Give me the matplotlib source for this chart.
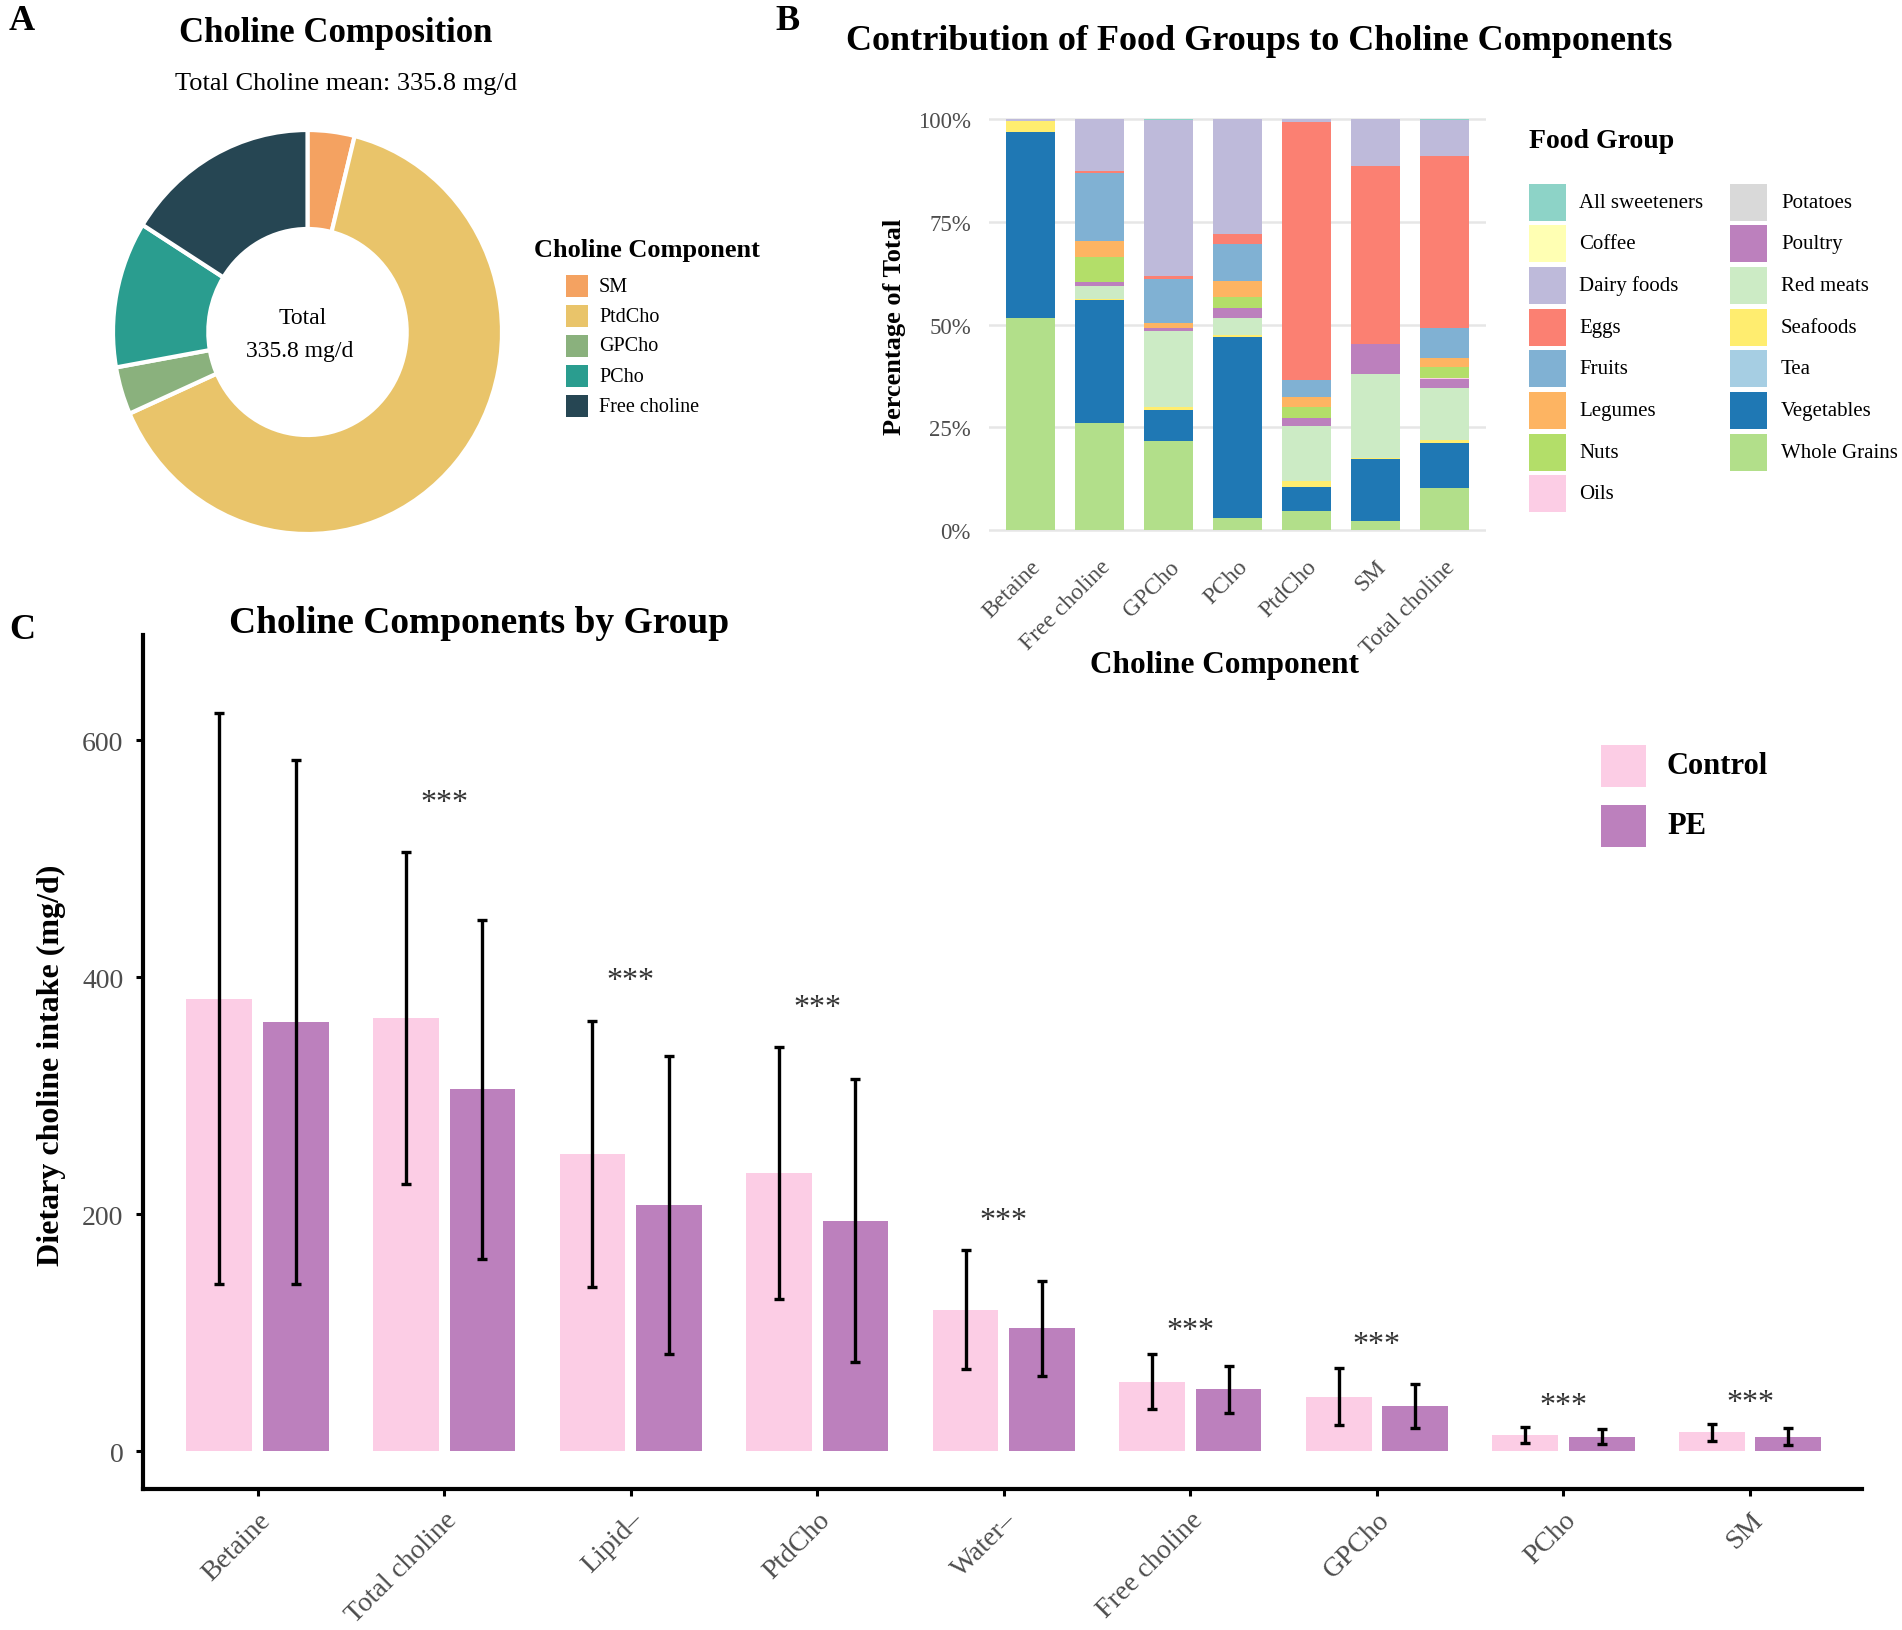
import matplotlib
matplotlib.use("Agg")
import matplotlib.pyplot as plt
from matplotlib.patches import Rectangle
import numpy as np

W, H = 1902, 1631
plt.rcParams['font.family'] = ['Liberation Serif', 'DejaVu Serif']

# ---------------- Panel A data ----------------
pie_labels = ["SM", "PtdCho", "GPCho", "PCho", "Free choline"]
pie_values = [13.1, 216.6, 12.8, 39.3, 54.1]
pie_colors = ["#f4a261", "#e9c46a", "#8ab17d", "#2a9d8f", "#264653"]
total_mean = 335.8

# ---------------- Panel B data ----------------
components_b = ["Betaine", "Free choline", "GPCho", "PCho", "PtdCho", "SM", "Total choline"]
food_groups = ["All sweeteners", "Coffee", "Dairy foods", "Eggs", "Fruits", "Legumes",
               "Nuts", "Oils", "Potatoes", "Poultry", "Red meats", "Seafoods", "Tea",
               "Vegetables", "Whole Grains"]
food_colors = ["#8dd3c7", "#ffffb3", "#bebada", "#fb8072", "#80b1d3", "#fdb462",
               "#b3de69", "#fccde5", "#d9d9d9", "#bc80bd", "#ccebc5", "#ffed6f",
               "#a6cee3", "#1f78b4", "#b2df8a"]
all_sweeteners = [0, 0, 0.2, 0, 0, 0, 0.2]
coffee = [0, 0, 0, 0, 0, 0, 0]
dairy_foods = [0.5, 12.6, 38.0, 27.9, 0.6, 11.4, 8.8]
eggs = [0, 0.6, 0.8, 2.4, 63.0, 43.4, 41.9]
fruits = [0, 16.6, 10.7, 9.2, 4.1, 0, 7.2]
legumes = [0, 3.7, 1.2, 3.7, 2.3, 0, 2.2]
nuts = [0, 6.1, 0, 2.9, 2.8, 0, 2.7]
oils = [0, 0, 0, 0, 0, 0, 0.3]
potatoes = [0, 0, 0, 0, 0, 0, 0]
poultry = [0, 1.0, 0.7, 2.2, 1.9, 7.3, 2.1]
red_meats = [0, 3.2, 18.4, 4.3, 13.3, 20.3, 12.7]
seafoods = [2.6, 0.3, 0.9, 0.4, 1.5, 0.4, 0.7]
tea = [0, 0, 0, 0, 0, 0, 0]
vegetables = [45.2, 29.9, 7.4, 44.2, 5.9, 14.9, 11.1]
whole_grains = [51.7, 26.0, 21.7, 2.8, 4.6, 2.3, 10.1]
food_values = [all_sweeteners, coffee, dairy_foods, eggs, fruits, legumes, nuts, oils,
               potatoes, poultry, red_meats, seafoods, tea, vegetables, whole_grains]
pct_ticks = [0, 25, 50, 75, 100]
pct_labels = ["0%", "25%", "50%", "75%", "100%"]

# ---------------- Panel C data ----------------
components_c = ["Betaine", "Total choline", "Lipid\u2013", "PtdCho", "Water\u2013",
                "Free choline", "GPCho", "PCho", "SM"]
control_mean = [381.6, 365.7, 250.5, 234.6, 119.4, 58.5, 45.9, 13.7, 15.7]
control_sd = [241, 140, 112, 106, 50, 23, 24, 7, 7.5]
pe_mean = [362.3, 305.2, 207.5, 194.4, 103.7, 52.2, 38.1, 12.2, 12.2]
pe_sd = [221, 143, 126, 119.5, 40, 20, 18.5, 6.5, 7]
signif = ["", "***", "***", "***", "***", "***", "***", "***", "***"]
group_labels = ["Control", "PE"]
group_colors = ["#fccde5", "#bc80bd"]
c_ticks = [0, 200, 400, 600]

GREY = "#4d4d4d"

fig = plt.figure(figsize=(W / 100, H / 100), dpi=100)


def add_ax(x0, y0, x1, y1):
    return fig.add_axes([x0 / W, 1 - y1 / H, (x1 - x0) / W, (y1 - y0) / H])


def ftext(x, y, s, **kw):
    fig.text(x / W, 1 - y / H, s, **kw)


def fkey(xc, yc, w, h, color):
    fig.add_artist(Rectangle(((xc - w / 2) / W, 1 - (yc + h / 2) / H), w / W, h / H,
                             transform=fig.transFigure, facecolor=color, edgecolor='none'))


# ================= Panel A =================
axA = add_ax(113, 131, 502, 535)
axA.pie(pie_values, colors=pie_colors, startangle=90, counterclock=False, radius=1,
        wedgeprops=dict(width=0.49, edgecolor='white', linewidth=3))
axA.set_aspect('auto')
axA.set_xlim(-1, 1)
axA.set_ylim(-1, 1)
axA.axis('off')
ftext(303, 318, "Total", ha='center', va='center', fontsize=17)
ftext(300, 351, f"{total_mean:.1f} mg/d", ha='center', va='center', fontsize=17)

ftext(22, 22, "A", ha='center', va='center', fontsize=26, fontweight='bold')
ftext(336, 34, "Choline Composition", ha='center', va='center', fontsize=25, fontweight='bold')
ftext(346, 84, f"Total Choline mean: {total_mean:.1f} mg/d", ha='center', va='center', fontsize=19)

ftext(534, 250, "Choline Component", ha='left', va='center', fontsize=19, fontweight='bold')
for i, (lab, col) in enumerate(zip(pie_labels, pie_colors)):
    yc = 287 + i * 30
    fkey(577, yc, 22, 22, col)
    ftext(599, yc, lab, ha='left', va='center', fontsize=14.5)

# ================= Panel B =================
axB = add_ax(989, 99.5, 1486, 551.5)
xb = np.arange(1, len(components_b) + 1)
bottom = np.zeros(len(components_b))
for vals, col in zip(food_values[::-1], food_colors[::-1]):
    axB.bar(xb, vals, 0.7, bottom=bottom, color=col, zorder=2, linewidth=0)
    bottom = bottom + np.array(vals)
axB.set_xlim(0.4, 7.6)
axB.set_ylim(-5, 105)
axB.set_yticks(pct_ticks)
axB.set_yticklabels(pct_labels)
axB.set_xticks(xb)
axB.set_xticklabels(components_b, rotation=45, ha='right', va='top', rotation_mode='anchor')
axB.yaxis.grid(True, color='#e6e6e6', linewidth=1.8, zorder=0)
axB.set_axisbelow(True)
for s in axB.spines.values():
    s.set_visible(False)
axB.tick_params(axis='y', length=0, pad=13, labelsize=16.5, labelcolor=GREY)
axB.tick_params(axis='x', length=0, pad=4, labelsize=17, labelcolor=GREY)

ftext(788, 22, "B", ha='center', va='center', fontsize=26, fontweight='bold')
ftext(1259, 42, "Contribution of Food Groups to Choline Components", ha='center', va='center',
      fontsize=26, fontweight='bold')
ftext(895, 327, "Percentage of Total", ha='center', va='center', rotation=90, fontsize=19,
      fontweight='bold')
ftext(1225, 665, "Choline Component", ha='center', va='center', fontsize=22.5, fontweight='bold')

ftext(1529, 142, "Food Group", ha='left', va='center', fontsize=20, fontweight='bold')
for i, (lab, col) in enumerate(zip(food_groups, food_colors)):
    colno, row = divmod(i, 8)
    xk = 1547 if colno == 0 else 1748
    xl = 1579 if colno == 0 else 1781
    yc = 203 + row * 41.7
    fkey(xk, yc, 37, 37, col)
    ftext(xl, yc, lab, ha='left', va='center', fontsize=15)

# ================= Panel C =================
axC = add_ax(143, 636, 1862, 1490)
axC.set_facecolor('none')
xc = np.arange(len(components_c))
off = 0.205
bw = 0.352
axC.bar(xc - off, control_mean, bw, color=group_colors[0], zorder=2, linewidth=0)
axC.bar(xc + off, pe_mean, bw, color=group_colors[1], zorder=2, linewidth=0)
axC.errorbar(xc - off, control_mean, yerr=control_sd, fmt='none', ecolor='black',
             elinewidth=2.4, capsize=3.5, capthick=2.4, zorder=3)
axC.errorbar(xc + off, pe_mean, yerr=pe_sd, fmt='none', ecolor='black',
             elinewidth=2.4, capsize=3.5, capthick=2.4, zorder=3)
for i, s in enumerate(signif):
    if s:
        top = max(control_mean[i] + control_sd[i], pe_mean[i] + pe_sd[i])
        axC.text(xc[i], top * 1.05 + 20 - 10, s, ha='center', va='baseline',
                 fontsize=23, color='#333333')
axC.set_xlim(-0.614, 8.6)
axC.set_ylim(-32, 688.6)
axC.set_yticks(c_ticks)
axC.set_xticks(xc)
axC.set_xticklabels(components_c, rotation=45, ha='right', va='top', rotation_mode='anchor')
axC.spines['top'].set_visible(False)
axC.spines['right'].set_visible(False)
axC.spines['left'].set_linewidth(3)
axC.spines['bottom'].set_linewidth(3)
axC.tick_params(axis='both', length=5, width=2.2, color='black', labelcolor=GREY)
axC.tick_params(axis='y', pad=9, labelsize=20)
axC.tick_params(axis='x', pad=8, labelsize=20)

ftext(22, 631, "C", ha='center', va='center', fontsize=26, fontweight='bold')
ftext(479, 624, "Choline Components by Group", ha='center', va='center', fontsize=27,
      fontweight='bold')
ftext(51, 1065, "Dietary choline intake (mg/d)", ha='center', va='center', rotation=90,
      fontsize=23, fontweight='bold')

for i, (lab, col) in enumerate(zip(group_labels, group_colors)):
    yc = 767 + i * 60
    fkey(1623, yc, 45, 42, col)
    ftext(1667, yc, lab, ha='left', va='center', fontsize=22, fontweight='bold')

fig.savefig("out.png", dpi=100, facecolor='white')
